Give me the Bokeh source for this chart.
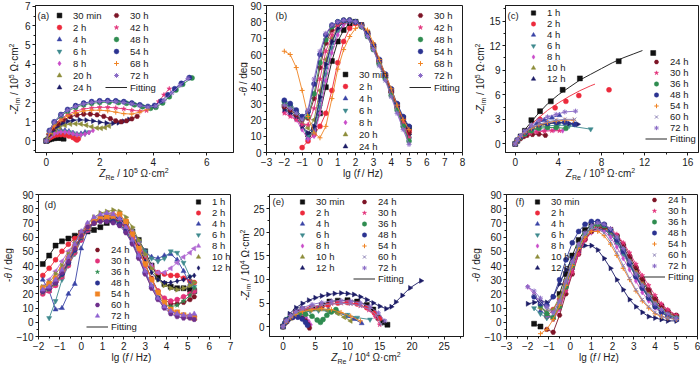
import numpy as np
from bokeh.plotting import figure
from bokeh.layouts import row, column
from bokeh.models import Legend, LegendItem, Label, FixedTicker, Div
from bokeh.embed import file_html
from bokeh.resources import INLINE

nan = float("nan")
FONT = "Liberation Sans"
INK = "#1a1a1a"

# ---------------- (a) Nyquist, 10^5 ohm cm2 ----------------
a_30min_x = [0.0, 0.05, 0.12, 0.2, 0.3, 0.4, 0.5, 0.58, 0.65]
a_30min_y = [0.0, 0.04, 0.08, 0.11, 0.14, 0.16, 0.17, 0.15, 0.12]
a_2h_x = [0.0, 0.05, 0.12, 0.2, 0.3, 0.42, 0.55, 0.7, 0.85, 1.0, 1.1, 1.15, 1.2]
a_2h_y = [0.0, 0.08, 0.15, 0.22, 0.28, 0.32, 0.33, 0.31, 0.26, 0.18, 0.1, 0.05, 0.12]
a_4h_x = [0.0, 0.05, 0.12, 0.2, 0.3, 0.42, 0.55, 0.7, 0.85, 1.0, 1.15, 1.3, 1.45]
a_4h_y = [0.0, 0.12, 0.25, 0.36, 0.46, 0.53, 0.56, 0.55, 0.5, 0.42, 0.36, 0.38, 0.45]
a_6h_x = [0.0, 0.05, 0.12, 0.2, 0.3, 0.42, 0.55, 0.7, 0.85, 1.0, 1.15, 1.3, 1.45, 1.6]
a_6h_y = [0.0, 0.1, 0.22, 0.32, 0.4, 0.46, 0.49, 0.49, 0.46, 0.4, 0.34, 0.33, 0.38, 0.46]
a_8h_x = [0.0, 0.05, 0.12, 0.2, 0.3, 0.42, 0.55, 0.7, 0.85, 1.0, 1.15, 1.3, 1.45, 1.6, 1.75]
a_8h_y = [0.0, 0.1, 0.2, 0.3, 0.38, 0.44, 0.47, 0.47, 0.44, 0.38, 0.33, 0.32, 0.36, 0.44, 0.55]
a_20h_x = [0.0, 0.08, 0.2, 0.35, 0.5, 0.7, 0.9, 1.1, 1.3, 1.5, 1.7, 1.9, 2.05, 2.2, 2.35]
a_20h_y = [0.0, 0.2, 0.4, 0.58, 0.72, 0.82, 0.88, 0.9, 0.88, 0.82, 0.74, 0.68, 0.66, 0.7, 0.78]
a_24h_x = [0.0, 0.1, 0.25, 0.4, 0.6, 0.8, 1.0, 1.25, 1.5, 1.75, 2.0, 2.25, 2.5, 2.7, 2.9, 3.1]
a_24h_y = [0.0, 0.3, 0.55, 0.75, 0.92, 1.02, 1.08, 1.1, 1.08, 1.04, 0.98, 0.93, 0.92, 0.95, 1.02, 1.12]
a_30h_x = [0.0, 0.1, 0.25, 0.45, 0.65, 0.9, 1.15, 1.4, 1.65, 1.9, 2.15, 2.4, 2.6, 2.8, 3.0, 3.2, 3.4]
a_30h_y = [0.0, 0.35, 0.65, 0.9, 1.1, 1.26, 1.35, 1.4, 1.4, 1.36, 1.28, 1.16, 1.05, 1.0, 1.05, 1.15, 1.28]
a_42h_x = [0.0, 0.12, 0.3, 0.55, 0.8, 1.1, 1.4, 1.7, 2.0, 2.3, 2.6, 2.9, 3.2, 3.5, 3.75, 4.0, 4.2, 4.4, 4.6]
a_42h_y = [0.0, 0.45, 0.85, 1.15, 1.38, 1.55, 1.66, 1.72, 1.75, 1.75, 1.72, 1.67, 1.6, 1.55, 1.58, 1.75, 2.05, 2.4, 2.72]
a_48h_x = [0.0, 0.12, 0.3, 0.55, 0.8, 1.1, 1.4, 1.7, 2.0, 2.35, 2.7, 3.0, 3.3, 3.6, 3.9, 4.1, 4.35, 4.6, 4.85, 5.1, 5.45]
a_48h_y = [0.0, 0.5, 0.95, 1.3, 1.55, 1.75, 1.88, 1.96, 2.0, 2.02, 2.0, 1.96, 1.88, 1.78, 1.7, 1.75, 1.98, 2.3, 2.65, 2.95, 3.28]
a_54h_x = [0.0, 0.12, 0.3, 0.55, 0.8, 1.1, 1.4, 1.7, 2.0, 2.3, 2.6, 2.9, 3.2, 3.5, 3.8, 4.05, 4.3, 4.55, 4.8, 5.05, 5.35]
a_54h_y = [0.0, 0.55, 1.0, 1.38, 1.64, 1.84, 1.97, 2.05, 2.09, 2.1, 2.09, 2.05, 1.98, 1.88, 1.8, 1.85, 2.08, 2.4, 2.72, 3.0, 3.3]
a_68h_x = [0.0, 0.12, 0.3, 0.55, 0.8, 1.1, 1.4, 1.7, 2.0, 2.3, 2.6, 2.9, 3.2, 3.5, 3.8]
a_68h_y = [0.0, 0.4, 0.78, 1.08, 1.3, 1.46, 1.56, 1.6, 1.6, 1.57, 1.5, 1.42, 1.4, 1.5, 1.66]
a_72h_x = [0.0, 0.12, 0.3, 0.55, 0.8, 1.1, 1.4, 1.7, 2.0, 2.3, 2.6, 2.9, 3.2, 3.5, 3.8, 4.1, 4.4, 4.7, 5.0, 5.3]
a_72h_y = [0.0, 0.52, 0.98, 1.35, 1.6, 1.8, 1.93, 2.01, 2.05, 2.06, 2.04, 2.0, 1.93, 1.84, 1.76, 1.82, 2.1, 2.5, 2.9, 3.25]

# ---------------- (b) Bode phase ----------------
b_lgf = [-2.0, -1.67, -1.33, -1.0, -0.67, -0.33, 0.0, 0.33, 0.67, 1.0, 1.33, 1.67, 2.0, 2.33, 2.67, 3.0, 3.33, 3.67, 4.0, 4.33, 4.67, 5.0]
b_30min = [nan, nan, nan, nan, 11, 14, 24, 40, 56, 68, 75, 79, 80, 78, 73, 65, 56, 47, 38, 29, 21, 15]
b_2h = [nan, nan, nan, 3, 7, 11, 16, 24, 38, 55, 68, 76, 79, 78, 73, 65, 56, 47, 38, 29, 20, 13]
b_4h = [30, 28, 24, 17, 9, 14, 32, 52, 67, 76, 80, 81, 80, 78, 72, 64, 55, 46, 37, 28, 18, 10]
b_6h = [27, 25, 22, 16, 10, 12, 28, 48, 64, 74, 79, 80, 80, 77, 72, 64, 55, 46, 36, 27, 17, 8]
b_8h = [25, 23, 20, 14, 8, 10, 24, 44, 61, 72, 78, 80, 80, 77, 71, 63, 54, 45, 35, 25, 15, 6]
b_20h = [29, 27, 23, 19, 15, 20, 38, 57, 70, 77, 80, 81, 80, 78, 72, 64, 55, 46, 37, 27, 18, 9]
b_24h = [26, 24, 21, 16, 12, 16, 34, 54, 68, 76, 80, 81, 80, 78, 72, 64, 55, 46, 37, 28, 19, 11]
b_30h = [28, 26, 23, 20, 21, 33, 52, 67, 75, 79, 81, 81, 80, 78, 73, 65, 56, 47, 37, 28, 19, 12]
b_42h = [24, 22, 20, 17, 17, 27, 45, 62, 72, 78, 80, 81, 80, 77, 72, 64, 55, 46, 36, 27, 18, 9]
b_48h = [31, 29, 25, 21, 22, 36, 55, 69, 77, 80, 81, 81, 80, 77, 71, 63, 54, 45, 35, 26, 16, 7]
b_54h = [32, 30, 26, 22, 25, 42, 60, 72, 78, 80, 81, 81, 80, 78, 73, 66, 57, 48, 39, 30, 22, 16]
b_68h = [62, 60, 52, 38, 22, 12, 9, 16, 33, 51, 63, 71, 76, 78, 75, 67, 57, 48, 39, 29, 20, 14]
b_72h = [29, 27, 24, 20, 26, 45, 62, 73, 78, 80, 81, 81, 80, 77, 71, 63, 53, 44, 34, 24, 14, 5]

# ---------------- (c) Nyquist, 10^5 ohm cm2 ----------------
c_1h_x = [0.0, 0.2, 0.5, 0.9, 1.5, 2.3, 3.3, 4.4, 6.0, 9.6, 12.8]
c_1h_y = [0.0, 0.4, 0.9, 1.6, 2.9, 4.0, 5.2, 6.6, 8.0, 10.1, 11.1]
c_1h_fit_x = [0.0, 0.5, 1.0, 2.0, 3.0, 4.0, 5.0, 6.0, 7.0, 8.0, 9.0, 10.0, 11.0, 11.8]
c_1h_fit_y = [0.0, 1.0, 1.9, 3.5, 4.9, 6.0, 6.9, 7.8, 8.5, 9.2, 9.9, 10.5, 11.0, 11.4]
c_2h_x = [0.0, 0.2, 0.5, 0.9, 1.5, 2.3, 3.7, 4.7, 5.9, 8.7]
c_2h_y = [0.0, 0.4, 0.8, 1.3, 2.0, 3.0, 4.4, 5.2, 5.9, 6.6]
c_2h_fit_x = [0.0, 0.5, 1.0, 2.0, 3.0, 4.0, 5.0, 6.0, 7.0, 7.4]
c_2h_fit_y = [0.0, 0.9, 1.7, 3.0, 4.1, 5.0, 5.8, 6.5, 7.1, 7.3]
c_4h_x = [0.0, 0.2, 0.5, 0.9, 1.4, 2.0, 2.7, 3.4, 4.1]
c_4h_y = [0.0, 0.4, 0.8, 1.3, 1.9, 2.5, 2.9, 3.2, 3.5]
c_6h_x = [0.0, 0.2, 0.5, 0.9, 1.5, 2.2, 3.0, 4.0, 5.0, 7.0]
c_6h_y = [0.0, 0.4, 0.8, 1.2, 1.7, 2.0, 2.2, 2.3, 2.2, 1.8]
c_8h_x = [0.0, 0.2, 0.5, 0.9, 1.4, 2.0, 2.8, 3.6, 4.4]
c_8h_y = [0.0, 0.4, 0.75, 1.1, 1.4, 1.6, 1.7, 1.7, 1.6]
c_10h_x = [0.0, 0.2, 0.5, 0.9, 1.5, 2.2, 3.0, 3.8, 4.6]
c_10h_y = [0.0, 0.4, 0.8, 1.2, 1.7, 2.1, 2.4, 2.6, 2.7]
c_12h_x = [0.0, 0.2, 0.5, 0.9, 1.5, 2.2, 3.0, 4.0, 5.0, 5.8]
c_12h_y = [0.0, 0.45, 0.9, 1.4, 1.9, 2.3, 2.5, 2.6, 2.5, 2.4]
c_24h_x = [0.0, 0.2, 0.5, 0.8, 1.1, 1.6, 2.2, 2.8]
c_24h_y = [0.0, 0.35, 0.65, 0.9, 1.05, 1.15, 1.2, 1.05]
c_30h_x = [0.0, 0.2, 0.5, 0.9, 1.4, 2.0, 2.7, 3.4, 4.1]
c_30h_y = [0.0, 0.4, 0.75, 1.05, 1.3, 1.45, 1.55, 1.6, 1.6]
c_36h_x = [0.0, 0.2, 0.5, 0.9, 1.5, 2.2, 3.0, 3.8, 4.7]
c_36h_y = [0.0, 0.4, 0.8, 1.2, 1.6, 1.9, 2.0, 2.0, 1.9]
c_48h_x = [0.0, 0.2, 0.5, 0.9, 1.5, 2.2, 3.0, 3.8, 4.6, 5.5]
c_48h_y = [0.0, 0.45, 0.9, 1.4, 1.9, 2.3, 2.5, 2.6, 2.6, 2.4]
c_54h_x = [0.0, 0.2, 0.5, 0.9, 1.5, 2.2, 3.0, 3.8, 4.6, 5.4]
c_54h_y = [0.0, 0.45, 0.9, 1.4, 1.9, 2.3, 2.6, 2.8, 2.9, 2.9]
c_60h_x = [0.0, 0.2, 0.5, 0.9, 1.5, 2.2, 3.0, 3.8, 4.6, 5.5]
c_60h_y = [0.0, 0.5, 1.0, 1.5, 2.0, 2.4, 2.7, 2.9, 3.0, 3.0]
c_72h_x = [0.0, 0.2, 0.5, 0.9, 1.5, 2.2, 3.0, 3.8, 4.6, 5.6]
c_72h_y = [0.0, 0.5, 1.0, 1.6, 2.3, 2.9, 3.3, 3.6, 3.9, 4.0]

# ---------------- (d) Bode phase ----------------
d_lgf = [-1.8, -1.5, -1.2, -0.9, -0.6, -0.3, 0.0, 0.3, 0.6, 0.9, 1.2, 1.5, 1.8, 2.1, 2.4, 2.7, 3.0, 3.3, 3.6, 3.9, 4.2, 4.5, 4.8, 5.1, 5.3]
d_1h = [41, 47, 54, 57, 59, 61, 63, 64, 65, 67, 70, 72, 72, 70, 64, 58, 50, 40, 32, 27, 25, 24, 24, 23, 22]
d_2h = [33, 38, 44, 50, 55, 59, 63, 67, 70, 72, 73, 73, 71, 67, 61, 54, 46, 39, 35, 34, 33, 33, 31, 29, 28]
d_4h = [30, 22, 9, 10, 20, 27, 52, 64, 70, 73, 74, 74, 73, 70, 64, 57, 50, 46, 45, 47, 48, 44, 36, 27, 22]
d_6h = [nan, 3, 15, 30, 40, 48, 58, 66, 71, 74, 76, 75, 73, 70, 64, 57, 50, 45, 43, 45, 50, 49, 42, 32, 25]
d_8h = [25, 30, 36, 43, 50, 56, 62, 67, 71, 74, 77, 77, 75, 71, 64, 56, 47, 40, 35, 35, 38, 42, 46, 49, 52]
d_10h = [25, 28, 34, 40, 48, 56, 63, 69, 74, 77, 78, 79, 78, 74, 67, 58, 48, 38, 30, 26, 24, 23, 24, 26, 28]
d_12h = [22, 25, 30, 37, 45, 53, 61, 67, 71, 74, 75, 75, 73, 69, 62, 53, 43, 35, 30, 28, 28, 29, 30, 32, 33]
d_24h = [22, 24, 28, 34, 42, 51, 60, 66, 70, 72, 73, 73, 71, 67, 60, 51, 41, 31, 22, 16, 13, 13, 14, 16, 18]
d_30h = [20, 22, 26, 32, 40, 49, 58, 65, 70, 72, 73, 72, 70, 66, 59, 50, 40, 30, 22, 17, 15, 16, 18, 20, 22]
d_36h = [21, 23, 27, 33, 41, 50, 59, 66, 70, 72, 73, 72, 70, 65, 57, 47, 36, 26, 18, 13, 11, 12, 15, 19, 24]
d_48h = [22, 24, 28, 34, 42, 51, 60, 66, 70, 72, 72, 71, 69, 64, 56, 46, 35, 25, 17, 11, 8, 6, 5, 4, 4]
d_54h = [24, 27, 31, 37, 45, 53, 61, 67, 71, 73, 74, 75, 76, 71, 62, 52, 41, 30, 21, 14, 9, 7, 5, 4, 3]
d_60h = [22, 24, 28, 35, 43, 52, 61, 67, 70, 71, 71, 70, 68, 63, 55, 45, 34, 24, 16, 10, 6, 4, 3, 3, 2]
d_72h = [23, 25, 30, 37, 46, 55, 64, 70, 74, 76, 77, 76, 73, 67, 58, 47, 36, 26, 17, 11, 8, 6, 5, 5, 6]

# ---------------- (e) Nyquist, 10^4 ohm cm2 ----------------
e_30min_x = [0.0, 0.5, 1.2, 2.0, 3.0, 4.5, 6.0, 7.2, 8.5, 10.0, 11.5, 13.0, 14.0, 14.8, 15.5, 16.2]
e_30min_y = [0.0, 1.2, 2.3, 3.2, 3.7, 3.9, 4.6, 5.3, 5.5, 5.6, 5.3, 4.6, 3.6, 1.9, 0.9, 0.4]
e_2h_x = [0.0, 0.5, 1.2, 2.0, 3.0, 4.0, 5.5, 7.0, 8.5, 10.0, 11.5, 13.0, 14.2, 15.0]
e_2h_y = [0.0, 1.1, 2.0, 2.8, 3.4, 3.7, 3.9, 4.5, 5.0, 5.1, 4.8, 4.0, 2.9, 1.7]
e_4h_x = [0.0, 0.5, 1.2, 2.0, 3.0, 4.2, 5.5, 7.0, 8.5, 10.0, 11.0, 12.2]
e_4h_y = [0.0, 1.0, 1.9, 2.6, 3.2, 3.6, 3.7, 3.5, 3.0, 2.2, 1.6, 0.7]
e_6h_x = [0.0, 0.5, 1.2, 2.0, 3.0, 4.2, 5.5, 7.0, 8.5, 10.0, 11.5, 13.5]
e_6h_y = [0.0, 1.0, 1.8, 2.5, 3.0, 3.3, 3.4, 3.3, 3.0, 2.5, 1.9, 1.5]
e_8h_x = [0.0, 0.3, 0.8, 1.5, 2.3, 3.0, 3.6, 4.0, 4.3]
e_8h_y = [0.0, 0.8, 1.5, 2.1, 2.4, 2.3, 1.8, 1.1, 0.4]
e_10h_x = [0.0, 0.5, 1.2, 2.0, 3.0, 4.2, 5.5, 7.0, 8.5, 9.5, 10.5]
e_10h_y = [0.0, 1.0, 1.8, 2.5, 3.1, 3.5, 3.6, 3.4, 2.8, 2.0, 1.2]
e_12h_x = [0.0, 0.5, 1.0, 2.0, 3.0, 4.0, 5.0, 6.0, 7.0, 8.0, 9.0, 10.0, 11.0, 12.0, 13.0, 14.0, 15.0, 16.0, 16.8, 17.5, 18.5, 19.7, 21.4]
e_12h_y = [0.0, 1.5, 2.7, 4.0, 4.9, 5.6, 6.1, 6.5, 6.8, 7.0, 7.1, 7.0, 6.8, 6.3, 5.7, 5.0, 4.3, 3.8, 4.2, 5.2, 6.6, 8.2, 9.7]
e_24h_x = [0.0, 0.3, 0.8, 1.5, 2.3, 3.0, 3.5, 3.9, 4.1]
e_24h_y = [0.0, 0.7, 1.4, 1.9, 2.1, 1.8, 1.2, 0.4, -0.3]
e_30h_x = [0.0, 0.5, 1.2, 2.0, 3.0, 4.5, 6.0, 7.5, 9.0, 10.5, 12.0, 13.3, 14.3, 15.0]
e_30h_y = [0.0, 1.2, 2.2, 3.0, 3.7, 4.2, 4.6, 4.9, 5.0, 4.9, 4.4, 3.5, 2.1, 0.4]
e_36h_x = [0.0, 0.3, 0.8, 1.5, 2.5, 3.5, 4.5, 5.3, 5.8, 6.2, 6.8, 7.5, 8.2]
e_36h_y = [0.0, 0.8, 1.6, 2.2, 2.6, 2.6, 2.2, 1.4, 0.9, 1.5, 2.4, 3.1, 3.6]
e_48h_x = [0.0, 0.3, 0.8, 1.5, 2.3, 3.0, 3.5, 3.8]
e_48h_y = [0.0, 0.8, 1.5, 2.0, 2.0, 1.6, 0.9, 0.3]
e_54h_x = [0.0, 0.5, 1.2, 2.0, 3.0, 4.5, 6.0, 7.5, 9.0, 10.5, 12.0]
e_54h_y = [0.0, 1.0, 1.9, 2.6, 3.2, 3.6, 3.8, 3.6, 3.0, 2.2, 1.2]
e_60h_x = [0.0, 0.5, 1.2, 2.0, 3.0, 4.5, 6.0, 7.5, 9.0, 10.5, 12.0, 13.5, 14.5, 15.2]
e_60h_y = [0.0, 1.1, 2.1, 2.9, 3.6, 4.2, 4.6, 4.8, 4.9, 4.8, 4.4, 3.6, 2.4, 0.5]
e_72h_x = [0.0, 0.5, 1.2, 2.0, 3.0, 4.5, 6.0, 7.5, 9.0, 10.5, 12.0, 13.5, 14.8, 15.8]
e_72h_y = [0.0, 1.3, 2.4, 3.3, 4.0, 4.7, 5.1, 5.4, 5.5, 5.4, 5.0, 4.2, 2.9, 1.2]

# ---------------- (f) Bode phase ----------------
f_lgf = [-2.0, -1.7, -1.4, -1.1, -0.8, -0.5, -0.2, 0.1, 0.4, 0.7, 1.0, 1.3, 1.6, 1.9, 2.2, 2.5, 2.8, 3.1, 3.4, 3.7, 4.0, 4.3, 4.6, 5.0]
f_30min = [nan, -1, -3, nan, nan, 20, 34, 47, 58, 65, 68, 69, 68, 65, 60, 53, 45, 37, 29, 22, 16, 11, 7, 4]
f_2h = [nan, nan, nan, 4, 9, 16, 27, 39, 50, 59, 64, 66, 66, 63, 58, 51, 43, 35, 27, 20, 14, 10, 7, 4]
f_4h = [nan, nan, 8, 5, 3, 12, 25, 38, 50, 59, 64, 66, 65, 62, 56, 49, 41, 33, 25, 18, 13, 9, 6, 3]
f_6h = [nan, 10, 6, 3, 4, 13, 26, 40, 52, 60, 65, 67, 66, 62, 56, 48, 40, 32, 24, 17, 12, 8, 5, 3]
f_8h = [25, 20, 12, 5, 2, 9, 22, 36, 49, 58, 63, 65, 64, 60, 53, 45, 37, 29, 21, 15, 10, 7, 4, 2]
f_10h = [nan, nan, 10, 8, 9, 18, 30, 43, 54, 62, 66, 68, 67, 64, 58, 51, 43, 35, 27, 20, 14, 10, 6, 4]
f_12h = [13, 14, 15, 14, 18, 27, 37, 45, 51, 54, 54, 51, 45, 38, 30, 23, 16, 11, 7, 4, 3, 2, 1, 1]
f_24h = [nan, nan, nan, -5, -7, 5, 20, 34, 48, 58, 64, 67, 67, 65, 61, 55, 47, 39, 31, 23, 17, 12, 8, 5]
f_30h = [nan, nan, nan, nan, 2, 10, 22, 35, 48, 58, 65, 68, 68, 66, 62, 56, 49, 41, 33, 26, 19, 13, 9, 5]
f_36h = [nan, nan, 12, 6, 3, 11, 25, 40, 53, 62, 67, 69, 68, 65, 59, 51, 42, 33, 25, 18, 12, 8, 5, 3]
f_48h = [nan, 18, 13, 12, 18, 30, 44, 56, 64, 69, 71, 71, 69, 65, 58, 50, 41, 32, 24, 17, 11, 7, 4, 2]
f_54h = [nan, nan, -8, -5, 2, 12, 26, 40, 52, 60, 64, 64, 61, 55, 47, 38, 30, 22, 15, 10, 6, 4, 3, 2]
f_60h = [nan, 20, 14, 9, 6, 14, 28, 42, 54, 62, 66, 66, 63, 57, 49, 40, 31, 23, 16, 11, 7, 4, 3, 2]
f_72h = [25, 22, 17, 11, 7, 15, 29, 43, 55, 63, 68, 70, 69, 66, 60, 52, 43, 34, 26, 19, 13, 9, 6, 3]

# ---------------- styles ----------------
BLACK, RED, BLUE, TEAL = "#111111", "#ec2a3c", "#3a44a6", "#3f8a8e"
MAG, OLIVE, NAVY, WINE = "#c94cc9", "#8d8d3a", "#1c1c66", "#7d1426"
PINK, GREEN, DBLUE, ORANGE = "#e2327a", "#2f8c50", "#2b3391", "#f08424"
PURPLE, GRAYP, LILAC, VIOLET, LAV = "#8b6cc6", "#8a7fb4", "#b06ad2", "#6e2f8c", "#8f62d0"
LEFT, RIGHT = np.pi / 2, -np.pi / 2

STY_A = [("30 min", "square", BLACK, 0), ("2 h", "circle", RED, 0), ("4 h", "triangle", BLUE, 0),
         ("6 h", "inverted_triangle", TEAL, 0), ("8 h", "diamond", MAG, 0), ("20 h", "triangle", OLIVE, LEFT),
         ("24 h", "triangle", NAVY, RIGHT), ("30 h", "hex", WINE, 0), ("42 h", "star", PINK, 0),
         ("48 h", "circle", GREEN, 0), ("54 h", "circle", DBLUE, 0), ("68 h", "cross", ORANGE, 0),
         ("72 h", "asterisk", PURPLE, 0)]


def sty_c(first):
    return [(first, "square", BLACK, 0), ("2 h", "circle", RED, 0), ("4 h", "triangle", BLUE, 0),
            ("6 h", "inverted_triangle", TEAL, 0), ("8 h", "diamond", MAG, 0), ("10 h", "triangle", OLIVE, LEFT),
            ("12 h", "triangle", NAVY, RIGHT), ("24 h", "hex", WINE, 0), ("30 h", "star", PINK, 0),
            ("36 h", "circle", GREEN, 0), ("48 h", "circle", DBLUE, 0), ("54 h", "cross", ORANGE, 0),
            ("60 h", "x", GRAYP, 0), ("72 h", "asterisk", PURPLE, 0)]


STY_D = [("1 h", "square", BLACK, 0), ("2 h", "circle", RED, 0), ("4 h", "triangle", BLUE, 0),
         ("6 h", "inverted_triangle", TEAL, 0), ("8 h", "triangle", LILAC, LEFT), ("10 h", "triangle", OLIVE, RIGHT),
         ("12 h", "diamond", NAVY, 0), ("24 h", "hex", WINE, 0), ("30 h", "circle", PINK, 0),
         ("36 h", "star", GREEN, 0), ("48 h", "circle", DBLUE, 0), ("54 h", "square", ORANGE, 0),
         ("60 h", "hex", VIOLET, 0), ("72 h", "triangle", LAV, 0)]

SUB = '<span style="font-size:7px;vertical-align:-2.5px;line-height:0">{}</span>'
SUP = '<span style="font-size:7px;vertical-align:4px;line-height:0">{}</span>'


def nyq_y(e):
    return "-<i>Z</i>" + SUB.format("im") + " / 10" + SUP.format(e) + " &Omega;&middot;cm" + SUP.format("2")


def nyq_x(e):
    return "<i>Z</i>" + SUB.format("Re") + " / 10" + SUP.format(e) + " &Omega;&middot;cm" + SUP.format("2")


BODE_X = "lg (<i>f</i>&thinsp;/ Hz)"
BODE_Y = "-<i>&theta;</i> / deg"

TXT = f"white-space:nowrap;font-family:'{FONT}';font-size:10px;line-height:11px;color:{INK};"

DIM = {}


def xtitle(html, width, cx, height):
    t = (f'<div style="position:relative;width:{width}px;height:{height}px;">'
         f'<div style="position:absolute;left:{cx}px;top:0px;transform:translateX(-50%);{TXT}">{html}</div></div>')
    return Div(text=t, width=width, height=height, margin=0)


def ytitle(html, width, height, cy, cx):
    t = (f'<div style="position:relative;width:{width}px;height:{height}px;">'
         f'<div style="position:absolute;left:{cx}px;top:{cy}px;transform:translate(-50%,-50%) rotate(-90deg);{TXT}">'
         f'{html}</div></div>')
    return Div(text=t, width=width, height=height, margin=0)


def make_fig(w, h, bl, br, bt, bb, xr, yr, xt, xm, yt, ym):
    p = figure(width=w, height=h, x_range=xr, y_range=yr, output_backend="svg", toolbar_location=None,
               min_border_left=bl, min_border_right=br, min_border_top=bt, min_border_bottom=bb)
    p.xgrid.visible = False
    p.ygrid.visible = False
    p.outline_line_color = INK
    p.outline_line_width = 1
    p.outline_line_alpha = 1
    for ax, t, m in ((p.xaxis[0], xt, xm), (p.yaxis[0], yt, ym)):
        ax.ticker = FixedTicker(ticks=t, minor_ticks=m)
        ax.major_label_text_font = FONT
        ax.major_label_text_font_size = "10px"
        ax.major_label_text_color = INK
        ax.major_tick_out = 3
        ax.major_tick_in = 0
        ax.minor_tick_out = 2
        ax.minor_tick_in = 0
        ax.axis_line_color = INK
        ax.major_tick_line_color = INK
        ax.minor_tick_line_color = INK
        ax.major_label_standoff = 2
    DIM[p.id] = (w - bl - br, h - bt - bb, bl, bt)
    return p


def fw(p):
    return DIM[p.id][0]


def fh(p):
    return DIM[p.id][1]


def series(p, xs, ys, st, fit_x=None, fit_y=None, size=5):
    label, marker, color, ang = st
    x = np.array(xs, dtype=float)
    y = np.array(ys, dtype=float)
    fx = x if fit_x is None else np.array(fit_x, dtype=float)
    fy = y if fit_y is None else np.array(fit_y, dtype=float)
    lr = p.line(fx, fy, line_color=color, line_width=1, line_alpha=0.9)
    if marker in ("cross", "x", "asterisk"):
        r = p.scatter(x, y, marker=marker, size=size, angle=ang, line_color=color, line_width=1)
    else:
        r = p.scatter(x, y, marker=marker, size=size, angle=ang, fill_color=color,
                      line_color=color, line_width=0.5)
    return r, lr


def legend(p, items, x, top, rowh):
    H = len(items) * rowh
    leg = Legend(items=[LegendItem(label=l, renderers=[r]) for l, r in items],
                 location=(x, fh(p) - top - H), border_line_alpha=0, background_fill_alpha=0,
                 label_text_font=FONT, label_text_font_size="9.5px", label_text_color=INK,
                 glyph_width=22, glyph_height=rowh, label_height=rowh, label_standoff=3,
                 spacing=0, padding=0, margin=0)
    p.add_layout(leg)


def panel_tag(p, t, x, top):
    p.add_layout(Label(x=x, y=fh(p) - top, x_units="screen", y_units="screen", text=t, text_font=FONT,
                       text_font_size="9.5px", text_baseline="middle", text_color=INK))


def build_nyq(p, data, styles, fits=None):
    out = []
    for i, ((xs, ys), st) in enumerate(zip(data, styles)):
        fx, fy = (fits or {}).get(i, (None, None))
        out.append(series(p, xs, ys, st, fx, fy))
    return out


def build_bode(p, grid, data, styles):
    return [series(p, grid, ys, st) for ys, st in zip(data, styles)]


def rng(a, b, s):
    return [float(v) for v in np.round(np.arange(a, b + s / 2, s), 3)]


def panel(p, ywidth, ycx, yhtml, xhtml, xh):
    fw_, fh_, bl, bt = DIM[p.id]
    yd = ytitle(yhtml, ywidth, p.height, bt + fh_ / 2, ycx)
    xd = xtitle(xhtml, ywidth + p.width, ywidth + bl + fw_ / 2, xh)
    return column(row(yd, p, spacing=0), xd, spacing=0)


# ---------------- panel (a) ----------------
pa = make_fig(217, 168, 15, 4, 5, 16, (-0.4, 7.0), (-0.6, 7.05), [0, 2, 4, 6], [1, 3, 5],
              rng(0, 7, 1), rng(-0.5, 6.5, 1))
ra = build_nyq(pa, [(a_30min_x, a_30min_y), (a_2h_x, a_2h_y), (a_4h_x, a_4h_y), (a_6h_x, a_6h_y),
                    (a_8h_x, a_8h_y), (a_20h_x, a_20h_y), (a_24h_x, a_24h_y), (a_30h_x, a_30h_y),
                    (a_42h_x, a_42h_y), (a_48h_x, a_48h_y), (a_54h_x, a_54h_y), (a_68h_x, a_68h_y),
                    (a_72h_x, a_72h_y)], STY_A)
legend(pa, [(STY_A[i][0], ra[i][0]) for i in range(7)], 13, 4, 12)
legend(pa, [(STY_A[i][0], ra[i][0]) for i in range(7, 13)] + [("Fitting", ra[0][1])], 70, 4, 12)
panel_tag(pa, "(a)", 2, 10)
PA = panel(pa, 20, 14, nyq_y("5"), nyq_x("5"), 14)

# ---------------- panel (b) ----------------
pb = make_fig(223, 168, 17, 8, 5, 16, (-3, 8), (0, 90), rng(-3, 8, 1), rng(-2.5, 7.5, 1),
              rng(0, 90, 10), rng(5, 85, 10))
rb = build_bode(pb, b_lgf, [b_30min, b_2h, b_4h, b_6h, b_8h, b_20h, b_24h, b_30h, b_42h, b_48h,
                            b_54h, b_68h, b_72h], STY_A)
legend(pb, [(STY_A[i][0], rb[i][0]) for i in range(7, 13)] + [("Fitting", rb[0][1])], 143, 4, 12)
legend(pb, [(STY_A[i][0], rb[i][0]) for i in range(7)], 68, 63, 12)
panel_tag(pb, "(b)", 9, 10)
PB = panel(pb, 10, 6, BODE_Y, BODE_X, 14)

# ---------------- panel (c) ----------------
STY_C = sty_c("1 h")
pc = make_fig(214, 168, 17, 2, 5, 16, (-0.9, 17.0), (-1.05, 16.9), [0, 4, 8, 12, 16], [2, 6, 10, 14],
              rng(0, 15, 3), rng(1.5, 16.5, 3))
rc = build_nyq(pc, [(c_1h_x, c_1h_y), (c_2h_x, c_2h_y), (c_4h_x, c_4h_y), (c_6h_x, c_6h_y),
                    (c_8h_x, c_8h_y), (c_10h_x, c_10h_y), (c_12h_x, c_12h_y), (c_24h_x, c_24h_y),
                    (c_30h_x, c_30h_y), (c_36h_x, c_36h_y), (c_48h_x, c_48h_y), (c_54h_x, c_54h_y),
                    (c_60h_x, c_60h_y), (c_72h_x, c_72h_y)], STY_C,
               fits={0: (c_1h_fit_x, c_1h_fit_y), 1: (c_2h_fit_x, c_2h_fit_y)})
legend(pc, [(STY_C[i][0], rc[i][0]) for i in range(7)], 17, 2, 11)
legend(pc, [(STY_C[i][0], rc[i][0]) for i in range(7, 14)] + [("Fitting", rc[0][1])], 140, 51, 11)
panel_tag(pc, "(c)", 2, 10)
PC = panel(pc, 16, 10, nyq_y("5"), nyq_x("5"), 14)

# ---------------- panel (d) ----------------
pd_ = make_fig(224, 170, 20, 7, 12, 16, (-2, 7), (-10, 90), rng(-2, 7, 1), rng(-1.5, 6.5, 1),
               rng(-10, 90, 10), rng(-5, 85, 10))
rd = build_bode(pd_, d_lgf, [d_1h, d_2h, d_4h, d_6h, d_8h, d_10h, d_12h, d_24h, d_30h, d_36h, d_48h,
                             d_54h, d_60h, d_72h], STY_D)
legend(pd_, [(STY_D[i][0], rd[i][0]) for i in range(7)], 149, 2, 11)
legend(pd_, [(STY_D[i][0], rd[i][0]) for i in range(7, 14)] + [("Fitting", rd[0][1])], 48, 50, 11)
panel_tag(pd_, "(d)", 6, 10)
PD = panel(pd_, 13, 8, BODE_Y, BODE_X, 16)

# ---------------- panel (e) ----------------
STY_E = sty_c("30 min")
pe = make_fig(220, 170, 19, 7, 12, 16, (-2.1, 28), (-2.1, 28), rng(0, 25, 5), rng(2.5, 27.5, 5),
              rng(0, 25, 5), rng(2.5, 27.5, 5))
re_ = build_nyq(pe, [(e_30min_x, e_30min_y), (e_2h_x, e_2h_y), (e_4h_x, e_4h_y), (e_6h_x, e_6h_y),
                     (e_8h_x, e_8h_y), (e_10h_x, e_10h_y), (e_12h_x, e_12h_y), (e_24h_x, e_24h_y),
                     (e_30h_x, e_30h_y), (e_36h_x, e_36h_y), (e_48h_x, e_48h_y), (e_54h_x, e_54h_y),
                     (e_60h_x, e_60h_y), (e_72h_x, e_72h_y)], STY_E)
legend(pe, [(STY_E[i][0], re_[i][0]) for i in range(7)], 22, 2, 11)
legend(pe, [(STY_E[i][0], re_[i][0]) for i in range(7, 14)] + [("Fitting", re_[0][1])], 84, 2, 11)
panel_tag(pe, "(e)", 3, 7)
PE = panel(pe, 13, 8, nyq_y("4"), nyq_x("4"), 16)

# ---------------- panel (f) ----------------
STY_F = sty_c("30 min")
pf = make_fig(219, 170, 20, 3, 12, 16, (-3, 6), (-10, 90), rng(-3, 6, 1), rng(-2.5, 5.5, 1),
              rng(-10, 90, 10), rng(-5, 85, 10))
rf = build_bode(pf, f_lgf, [f_30min, f_2h, f_4h, f_6h, f_8h, f_10h, f_12h, f_24h, f_30h, f_36h, f_48h,
                            f_54h, f_60h, f_72h], STY_F)
legend(pf, [(STY_F[i][0], rf[i][0]) for i in range(7)], 20, 2, 11)
legend(pf, [(STY_F[i][0], rf[i][0]) for i in range(7, 14)] + [("Fitting", rf[0][1])], 137, 0, 11)
panel_tag(pf, "(f)", 9, 7)
PF = panel(pf, 11, 6, BODE_Y, BODE_X, 16)

page = column(row(PA, PB, PC, spacing=0), row(PD, PE, PF, spacing=0), spacing=0)
open("out.html", "w").write(file_html(page, INLINE))
